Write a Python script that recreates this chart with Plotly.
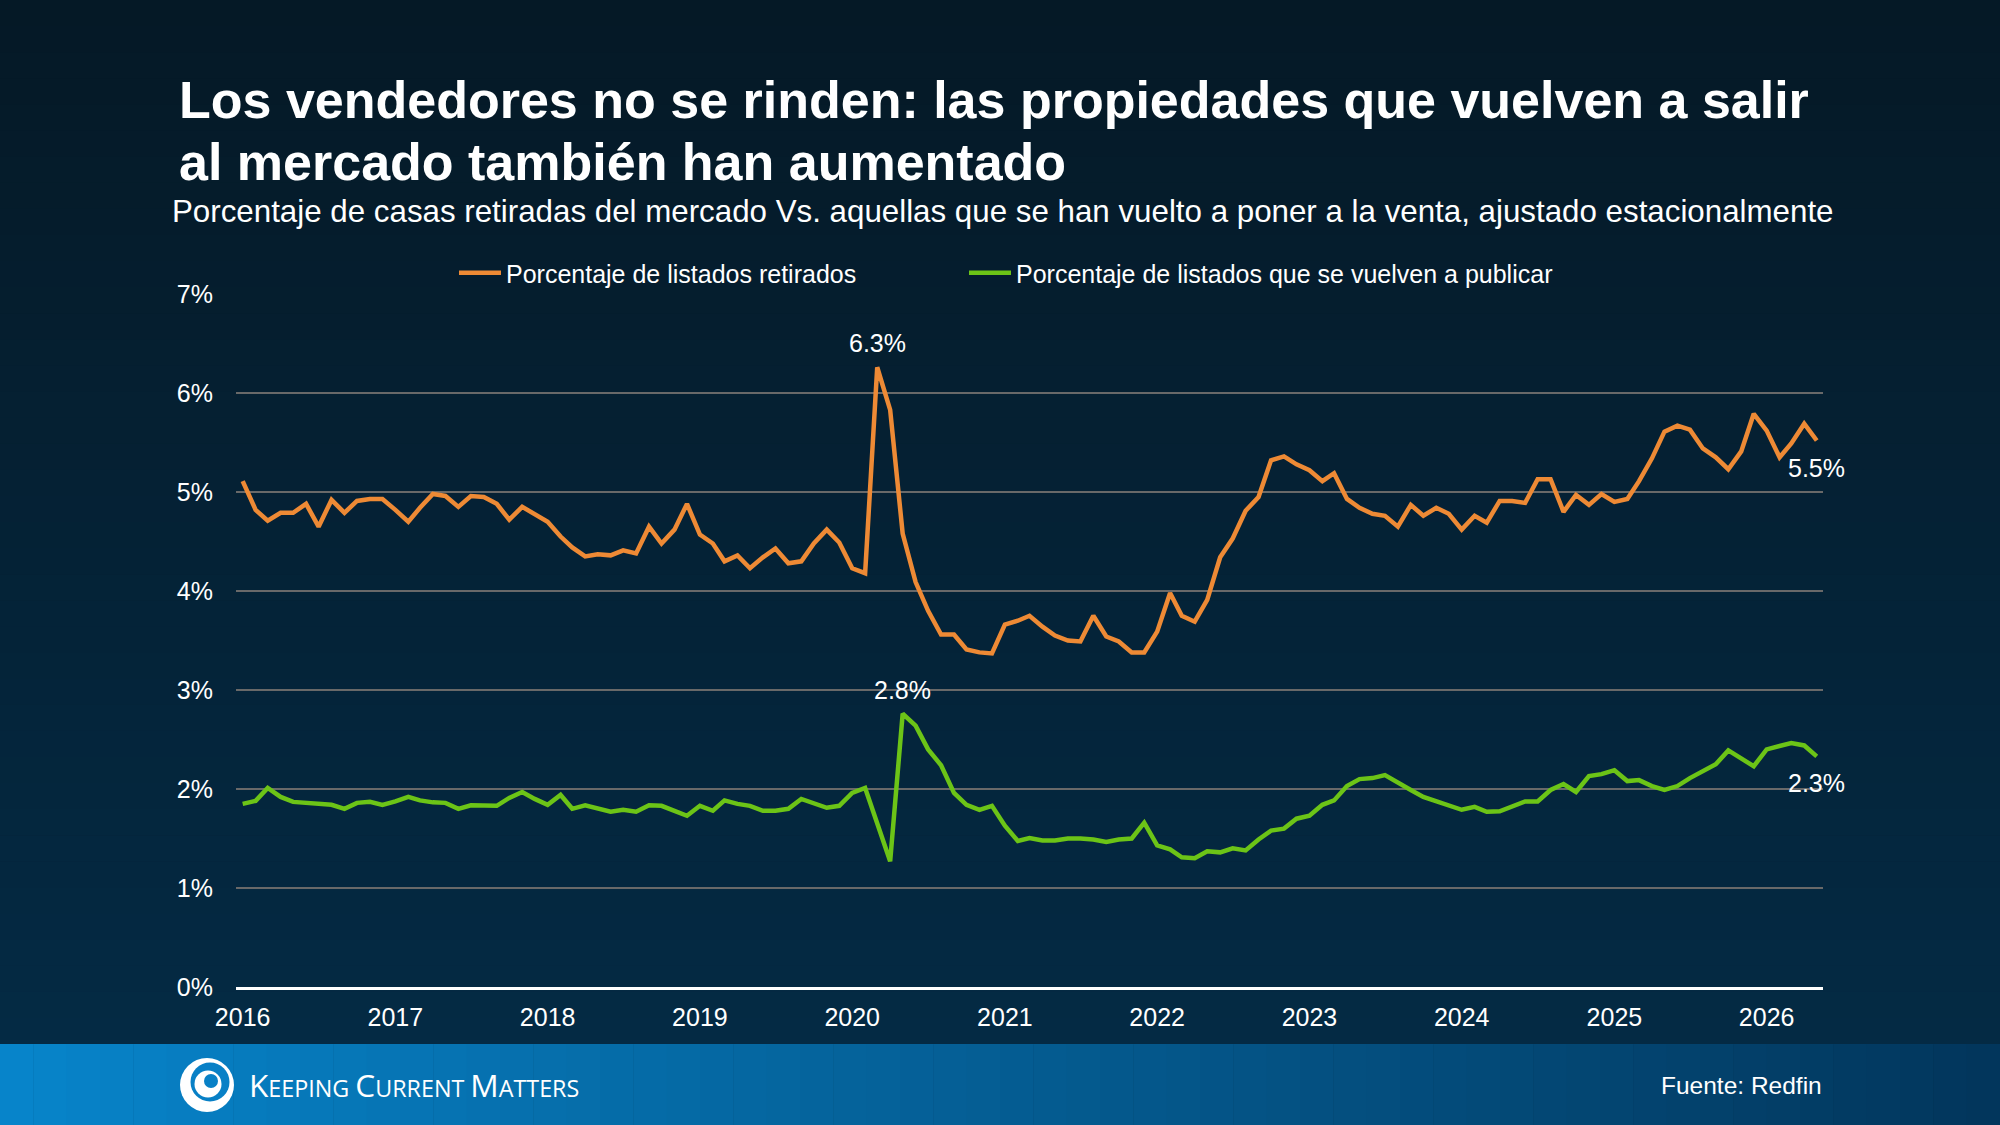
import plotly.graph_objects as go
import pandas as pd

# ---------------- data ----------------
months = pd.date_range("2016-01-01", periods=125, freq="MS")

retirados = [
    5.11, 4.82, 4.71, 4.79, 4.79, 4.88, 4.65, 4.92, 4.79, 4.91, 4.93, 4.93,
    4.82, 4.70, 4.84, 4.98, 4.96, 4.85, 4.96, 4.95, 4.88, 4.72, 4.85, 4.78,
    4.70, 4.55, 4.44, 4.35, 4.37, 4.36, 4.41, 4.38, 4.65, 4.48, 4.62, 4.88,
    4.57, 4.48, 4.30, 4.36, 4.23, 4.34, 4.43, 4.28, 4.30, 4.48, 4.62, 4.49,
    4.23, 4.18, 6.26, 5.83, 4.58, 4.09, 3.80, 3.56, 3.56, 3.41, 3.38, 3.37,
    3.66, 3.70, 3.75, 3.64, 3.55, 3.50, 3.49, 3.75, 3.54, 3.49, 3.38, 3.38,
    3.59, 3.98, 3.75, 3.69, 3.91, 4.34, 4.53, 4.81, 4.95, 5.32, 5.36, 5.28,
    5.22, 5.11, 5.19, 4.93, 4.84, 4.78, 4.76, 4.65, 4.87, 4.76, 4.84, 4.78,
    4.62, 4.76, 4.69, 4.91, 4.91, 4.89, 5.13, 5.13, 4.80, 4.97, 4.87, 4.98,
    4.90, 4.93, 5.11, 5.34, 5.61, 5.67, 5.63, 5.44, 5.35, 5.23, 5.41, 5.79,
    5.62, 5.35, 5.49, 5.69, 5.52,
]

republicados = [
    1.85, 1.88, 2.01, 1.92, 1.87, 1.86, 1.85, 1.84, 1.80, 1.86, 1.87, 1.84,
    1.875, 1.92, 1.885, 1.865, 1.86, 1.80, 1.835, 1.83, 1.83, 1.91, 1.97, 1.90,
    1.84, 1.94, 1.80, 1.835, 1.80, 1.77, 1.79, 1.77, 1.835, 1.83, 1.78, 1.73,
    1.83, 1.78, 1.885, 1.85, 1.83, 1.78, 1.78, 1.80, 1.90, 1.85, 1.81, 1.83,
    1.96, 2.01, 1.64, 1.27, 2.76, 2.64, 2.40, 2.24, 1.96, 1.84, 1.79, 1.83,
    1.63, 1.475, 1.505, 1.48, 1.48, 1.50, 1.50, 1.49, 1.465, 1.49, 1.50, 1.66,
    1.43, 1.39, 1.31, 1.30, 1.37, 1.36, 1.40, 1.38, 1.49, 1.58, 1.60, 1.70,
    1.73, 1.84, 1.885, 2.03, 2.10, 2.11, 2.14, 2.06, 1.99, 1.92, 1.875, 1.84,
    1.79, 1.82, 1.77, 1.775, 1.82, 1.875, 1.875, 1.99, 2.05, 1.97, 2.13, 2.15,
    2.19, 2.08, 2.09, 2.03, 1.99, 2.03, 2.11, 2.18, 2.25, 2.39, 2.31, 2.23,
    2.40, 2.44, 2.465, 2.44, 2.33,
]

year_ticks = [f"{y}-01-01" for y in range(2016, 2027)]
year_labels = [str(y) for y in range(2016, 2027)]
y_ticks = [0, 1, 2, 3, 4, 5, 6, 7]
y_labels = ["0%", "1%", "2%", "3%", "4%", "5%", "6%", "7%"]

name_ret = "Porcentaje de listados retirados"
name_rep = "Porcentaje de listados que se vuelven a publicar"

# ---------------- layout geometry (px) ----------------
W_PX, H_PX = 2000, 1125
ML, MR, MT, MB = 236, 177, 294, 138
PW = W_PX - ML - MR
PH = H_PX - MT - MB


def xp(px):
    return (px - ML) / PW


def yp(py):
    return (H_PX - MB - py) / PH


def lerp(c1, c2, t):
    return "rgb(%d,%d,%d)" % tuple(round(a + (b - a) * t) for a, b in zip(c1, c2))


FONT = "Liberation Sans, Arial, sans-serif"
ORANGE = "#ee8a35"
GREEN = "#6cc417"

fig = go.Figure()
fig.add_trace(go.Scatter(x=months, y=retirados, mode="lines", name=name_ret,
                         line=dict(color=ORANGE, width=4.5), legend="legend"))
fig.add_trace(go.Scatter(x=months, y=republicados, mode="lines", name=name_rep,
                         line=dict(color=GREEN, width=4.5), legend="legend2"))

shapes = []
# background vertical gradient
top_c, bot_c = (5, 25, 38), (4, 42, 68)
FOOT_TOP = 1044
n = 40
for k in range(n):
    y0 = FOOT_TOP * k / n
    y1 = FOOT_TOP * (k + 1) / n + 0.5
    shapes.append(dict(type="rect", xref="paper", yref="paper", layer="below",
                       x0=xp(0), x1=xp(W_PX), y0=yp(y1), y1=yp(y0),
                       fillcolor=lerp(top_c, bot_c, k / (n - 1)), line_width=0))
# footer horizontal gradient
left_c, right_c = (7, 132, 202), (2, 54, 92)
m = 60
for k in range(m):
    x0 = W_PX * k / m
    x1 = W_PX * (k + 1) / m + 0.5
    shapes.append(dict(type="rect", xref="paper", yref="paper", layer="below",
                       x0=xp(x0), x1=xp(x1), y0=yp(H_PX), y1=yp(FOOT_TOP),
                       fillcolor=lerp(left_c, right_c, k / (m - 1)), line_width=0))


def circle(cx, cy, r, color):
    return dict(type="circle", xref="paper", yref="paper", layer="below",
                x0=xp(cx - r), x1=xp(cx + r), y0=yp(cy + r), y1=yp(cy - r),
                fillcolor=color, line_width=0)


logo_blue = "rgb(8,128,198)"
shapes += [
    circle(207, 1085, 27, "white"),
    circle(210, 1082, 19.5, logo_blue),
    circle(208, 1084, 13.5, "white"),
    circle(211, 1081, 7, logo_blue),
]

annotations = [
    dict(text="<b>Los vendedores no se rinden: las propiedades que vuelven a salir</b>",
         x=xp(176.5), y=yp(100), xref="paper", yref="paper", xanchor="left", yanchor="middle",
         showarrow=False, font=dict(family=FONT, size=52, color="white")),
    dict(text="<b>al mercado también han aumentado</b>",
         x=xp(176.5), y=yp(162), xref="paper", yref="paper", xanchor="left", yanchor="middle",
         showarrow=False, font=dict(family=FONT, size=52, color="white")),
    dict(text="Porcentaje de casas retiradas del mercado Vs. aquellas que se han vuelto a poner a la venta, ajustado estacionalmente",
         x=xp(169.5), y=yp(211), xref="paper", yref="paper", xanchor="left", yanchor="middle",
         showarrow=False, font=dict(family=FONT, size=31.3, color="white")),
    dict(text="Fuente: Redfin", x=xp(1824), y=yp(1085), xref="paper", yref="paper",
         xanchor="right", yanchor="middle", showarrow=False,
         font=dict(family=FONT, size=24.5, color="white")),
    dict(text='<span style="font-size:31.6px">K</span>EEPING <span style="font-size:31.6px">C</span>URRENT <span style="font-size:31.6px">M</span>ATTERS',
         x=xp(247), y=yp(1084), xref="paper", yref="paper", xanchor="left", yanchor="middle",
         showarrow=False, font=dict(family="Open Sans, sans-serif", size=23.3, color="white")),
]

# value labels
lab_font = dict(family=FONT, size=25, color="white")
i_max_r = 50
i_max_g = 52
annotations += [
    dict(x=months[i_max_r], y=retirados[i_max_r], text="6.3%", showarrow=False,
         yshift=24, font=lab_font),
    dict(x=months[i_max_g], y=republicados[i_max_g], text="2.8%", showarrow=False,
         yshift=24, font=lab_font),
    dict(x=months[-1], y=retirados[-1], text="5.5%", showarrow=False,
         yshift=-27, font=lab_font),
    dict(x=months[-1], y=republicados[-1], text="2.3%", showarrow=False,
         yshift=-27, font=lab_font),
]

leg_common = dict(orientation="h", yanchor="middle", xanchor="left", y=yp(273),
                  font=dict(family=FONT, size=25, color="white"),
                  bgcolor="rgba(0,0,0,0)", itemwidth=42)

fig.update_layout(
    width=W_PX, height=H_PX,
    margin=dict(l=ML, r=MR, t=MT, b=MB, pad=0),
    paper_bgcolor="rgb(5,25,38)",
    plot_bgcolor="rgba(0,0,0,0)",
    font=dict(family=FONT, color="white"),
    shapes=shapes,
    annotations=annotations,
    showlegend=True,
    legend=dict(x=xp(454), **leg_common),
    legend2=dict(x=xp(964), **leg_common),
    xaxis=dict(type="date", range=["2015-12-16", "2026-05-16"],
               tickvals=year_ticks, ticktext=year_labels,
               showgrid=False, zeroline=False,
               showline=True, linecolor="white", linewidth=2.5,
               ticks="", ticklabelstandoff=6,
               tickfont=dict(family=FONT, size=25, color="white")),
    yaxis=dict(range=[0, 7], tickmode="array", tickvals=y_ticks, ticktext=y_labels,
               showgrid=True, gridcolor="rgb(105,105,105)", gridwidth=2,
               zeroline=False, showline=False, ticks="",
               ticklabelstandoff=22,
               tickfont=dict(family=FONT, size=25, color="white")),
)

fig.write_html("out.html")
